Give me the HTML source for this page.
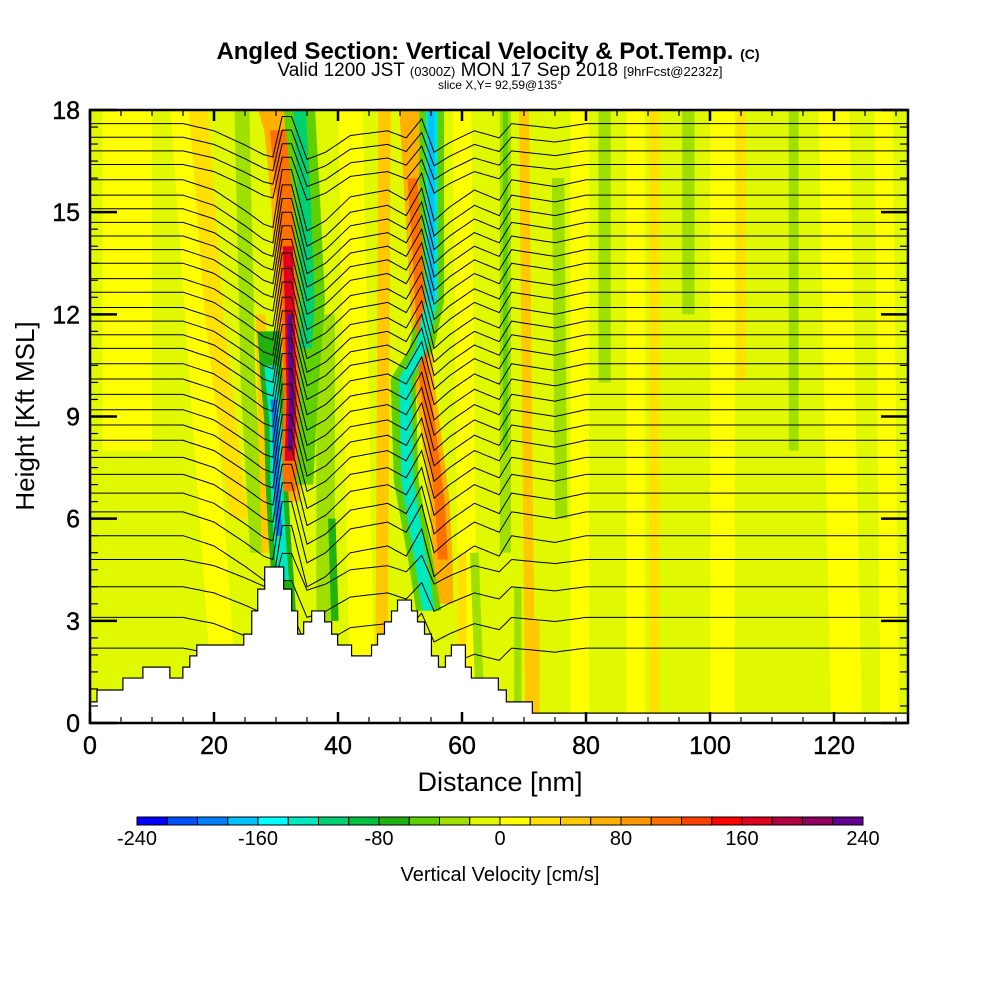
<!DOCTYPE html>
<html><head><meta charset="utf-8"><style>
html,body{margin:0;padding:0;background:#fff;}
svg{display:block;font-family:"Liberation Sans",sans-serif;}
</style></head><body>
<svg id="chart" width="1000" height="1000" viewBox="0 0 1000 1000">
<defs><clipPath id="plotclip"><rect x="90" y="110" width="818" height="613"/></clipPath></defs>
<g>
<text x="488" y="59" text-anchor="middle" font-size="24" font-weight="bold">Angled Section: Vertical Velocity &amp; Pot.Temp. <tspan font-size="14">(C)</tspan></text>
<text x="500" y="76" text-anchor="middle" font-size="19">Valid 1200 JST <tspan font-size="13">(0300Z)</tspan> MON 17 Sep 2018 <tspan font-size="13">[9hrFcst@2232z]</tspan></text>
<text x="500" y="89" text-anchor="middle" font-size="12">slice X,Y= 92,59@135°</text>
</g>
<g id="field" clip-path="url(#plotclip)"></g>
<g id="contours" clip-path="url(#plotclip)"></g>
<g id="terrain"></g>
<g id="axes"></g>
<text x="500" y="791" text-anchor="middle" font-size="27">Distance [nm]</text>
<text transform="translate(34,416) rotate(-90)" text-anchor="middle" font-size="26">Height [Kft MSL]</text>
<g id="colorbar"></g>
<text x="500" y="881" text-anchor="middle" font-size="20">Vertical Velocity [cm/s]</text>
</svg>
<script>
const colorLevels = ["#0000ff","#0050ff","#0080ff","#00c0ff","#00ffff","#00e8c0","#00d070","#00c040","#20b010","#60d000","#a0e000","#e0f800","#ffff00","#ffe000","#ffc800","#ffb000","#ff9800","#ff7000","#ff4000","#ff0000","#e00020","#b00040","#900060","#600090"];
const colorbarTicks = [-240,-160,-80,0,80,160,240];
const xTicks = [0,20,40,60,80,100,120];
const yTicks = [0,3,6,9,12,15,18];
const stripeValues = [10,10,30,10,-40,40,-40,-70,40,10,-40,-60,40,-30,10,-30,30,10,-30,10,30,-30,10,10,30,-40,-40,40,
  60,110,170,220,-70,-140,-200,-60,-120,60,100,-60,-130,-170];
const stripeWidths = [4,2,1.5,2,1.2,0.8,1.5,0.6,1,1.5,0.9,0.4,0.8,1,1.5,1,0.8,1.5,1,2,0.7,0.8,2.5,1.5,0.7,0.7,0.6,0.5,
  2.2,1.3,0.8,0.4,1.8,1.0,0.5,2.5,1.0,1.6,0.8,2.0,1.0,0.5];
const stripePaths = [
 [[18,6],[8,6]], [[18,15],[0,22]], [[18,17.5],[12,20],[6,24]], [[18,42],[0,44]],
 [[18,24.5],[10,25.5],[5,27]], [[12,27.5],[5,28.5]], [[12,38],[3,38]], [[6,39],[3,39.5]],
 [[18,47.5],[0,47]], [[18,60],[0,61]], [[18,67],[5,67]], [[18,67],[8,67]], [[18,70],[0,71]],
 [[16,75.5],[6,76]], [[18,79],[0,79]], [[18,83],[10,83]], [[18,91],[0,91]], [[18,88],[0,88]],
 [[18,96.5],[12,96.5]], [[18,102],[0,102]], [[18,105],[10,105]], [[18,113.5],[8,113.5]],
 [[18,120],[0,122]], [[18,128],[0,129]], [[5,60],[0,60]], [[5,62],[0,63]], [[4,69],[0,69]], [[3,72],[0,72]],
 [[18,29.3],[17.4,30.3],[15.4,31.4],[12.4,32.2],[9.5,32.5],[7.7,32.2],[6.5,31.6]],
 [[17.4,30.3],[15.4,31.4],[12.4,32.2],[9.5,32.5],[7.7,32.2],[6.8,31.8]],
 [[14,31.9],[12.4,32.2],[9.5,32.5],[7.7,32.2]],
 [[12,32.2],[9.5,32.5],[8,32.3]],
 [[11.5,28.8],[10.1,29.3],[8.9,29.9],[7.1,30.1],[5.4,30.6],[4.2,31.1],[3,31.5]],
 [[10.5,29.1],[8.9,29.9],[7.1,30.1],[5.4,30.6],[4.2,31.1]],
 [[9.5,29.6],[8.9,29.9],[7.1,30.1],[5.5,30.5]],
 [[18,33.8],[15.4,34.6],[12.4,35.4],[9.5,34.2],[7,33.5]],
 [[18,33.8],[15.4,34.6],[12.4,35.2],[11,34.8]],
 [[18,51.5],[13.9,52.8],[10.1,53.9],[7.7,55.6],[6.5,56.4],[4.8,56.9],[3.5,57]],
 [[16,52],[13.9,52.8],[10.1,53.9],[7.7,55.6],[6.5,56.4],[4.8,56.9]],
 [[18,55.1],[12.4,55.1],[11,53.5],[10.1,50.5],[7.1,51],[4.8,53.3],[3.3,54.6]],
 [[18,55.1],[12.4,55.1],[11,53.5],[10.1,50.8],[7.1,51.2],[4.8,53.3],[3.3,54.6]],
 [[18,55.1],[12.4,55.1]]
];
const contourLevels = [17.6,17.2,16.8,16.4,15.95,15.5,15.1,14.7,14.3,13.9,13.5,13.05,12.65,12.2,11.8,11.4,11.0,10.55,10.1,9.65,9.2,8.75,8.3,7.8,7.3,6.75,6.2,5.5,4.8,4.0,3.1,2.2];
const dispDist = [0,15,20,25,28,29.5,31,32.5,35,38,42,48,51,53.5,55.5,58,62,66,68,75,80,132];
const dispVal =  [0,0,-0.3,-0.9,-1.3,-1.4,0.3,0.3,-1.5,-1.2,-0.5,-0.3,-0.6,0.2,-1.2,-0.8,-0.3,-0.6,0,-0.2,0,0];
const terrEdges = [0,1.13,5.31,8.53,12.88,14.98,16.1,17.23,24.8,26.09,27.05,28.18,31.24,32.53,33.49,34.46,35.75,37.84,38.97,39.94,42.19,45.41,46.38,47.5,48.63,49.6,51.85,52.82,53.95,55.07,56.2,57.33,58.29,60.55,61.51,65.86,67.15,71.34,132];
const terrHeights = [0.62,0.97,1.32,1.64,1.32,1.64,1.97,2.29,2.61,3.29,3.93,4.58,3.93,3.29,2.61,2.97,3.29,2.97,2.61,2.29,1.97,2.29,2.61,2.97,3.29,3.61,3.29,2.97,2.61,1.97,1.64,1.97,2.29,1.64,1.32,0.97,0.62,0.29];

const NS='http://www.w3.org/2000/svg';
function X(nm){return 90+nm*6.2;}
function Y(h){return 723-h*34.056;}
function colorOf(v){let i=Math.floor((v+240)/20);if(i<0)i=0;if(i>23)i=23;return colorLevels[i];}
function mk(tag,attrs,parent){const e=document.createElementNS(NS,tag);for(const k in attrs)e.setAttribute(k,attrs[k]);parent.appendChild(e);return e;}

const field=document.getElementById('field');
const bg=mk('rect',{x:90,y:110,width:818,height:613,fill:colorOf(-10)},field);


const order=stripeValues.map((v,i)=>i).sort((a,b)=>Math.abs(stripeValues[a])-Math.abs(stripeValues[b]));
order.forEach(i=>{
  const p=stripePaths[i],w=stripeWidths[i];
  const left=p.map(q=>X(q[1]-w)+','+Y(q[0]));
  const right=p.slice().reverse().map(q=>X(q[1]+w)+','+Y(q[0]));
  const poly=mk('polygon',{points:left.concat(right).join(' '),fill:colorOf(stripeValues[i])},field);
  
  
});

function disp(x){for(let i=0;i<dispDist.length-1;i++){if(x>=dispDist[i]&&x<=dispDist[i+1]){const t=(x-dispDist[i])/(dispDist[i+1]-dispDist[i]);return dispVal[i]+t*(dispVal[i+1]-dispVal[i]);}}return 0;}
const cg=document.getElementById('contours');
contourLevels.forEach(lv=>{
  const amp=lv>16?0.7:(lv<5?0.6:1);
  const pts=[];
  for(let x=0;x<=132;x+=0.5){pts.push(X(x).toFixed(1)+','+Y(lv+disp(x)*amp).toFixed(1));}
  const pl=mk('polyline',{points:pts.join(' '),fill:'none',stroke:'#000','stroke-width':1},cg);
  
  
});

const tg=document.getElementById('terrain');
let d='M'+X(0)+','+Y(0);
for(let i=0;i<terrHeights.length;i++){d+=' L'+X(terrEdges[i])+','+Y(terrHeights[i])+' L'+X(terrEdges[i+1])+','+Y(terrHeights[i]);}
d+=' L'+X(132)+','+Y(0)+' Z';
const tp=mk('path',{d:d,fill:'#fff',stroke:'#000','stroke-width':1.2},tg);



const ag=document.getElementById('axes');
const frame=mk('rect',{x:90,y:110,width:818,height:613,fill:'none',stroke:'#000','stroke-width':2.5},ag);


for(let x=0;x<=132;x+=5){
  const major=x%20===0,len=major?11:6;
  mk('line',{x1:X(x),x2:X(x),y1:723,y2:723-len,stroke:'#000','stroke-width':major?2.5:1.2},ag);
  mk('line',{x1:X(x),x2:X(x),y1:110,y2:110+len,stroke:'#000','stroke-width':major?2.5:1.2},ag);
}
for(let h=0;h<=18;h+=0.5){
  const major=h%3===0,len=major?27:8;
  mk('line',{x1:90,x2:90+len,y1:Y(h),y2:Y(h),stroke:'#000','stroke-width':major?2.5:1.2},ag);
  mk('line',{x1:908,x2:908-len,y1:Y(h),y2:Y(h),stroke:'#000','stroke-width':major?2.5:1.2},ag);
}
xTicks.forEach(t=>{
  const tx=mk('text',{x:X(t),y:754,'text-anchor':'middle','font-size':25,stroke:'#000','stroke-width':0.4},ag);
  tx.textContent=t;
  
  
});
yTicks.forEach(t=>{
  const tx=mk('text',{x:80,y:Y(t)+9,'text-anchor':'end','font-size':25,stroke:'#000','stroke-width':0.4},ag);
  tx.textContent=t;
  
  
});

const cb=document.getElementById('colorbar');
const cw=(863-137)/colorLevels.length;
colorLevels.forEach((c,i)=>{
  const r=mk('rect',{x:137+i*cw,y:817,width:cw,height:8,fill:c,stroke:'#000','stroke-width':1},cb);
  
  
});
colorbarTicks.forEach(t=>{
  const tx=mk('text',{x:137+(t+240)/480*726,y:845,'text-anchor':'middle','font-size':20},cb);
  tx.textContent=t;
  
  
});
</script>
</body></html>
